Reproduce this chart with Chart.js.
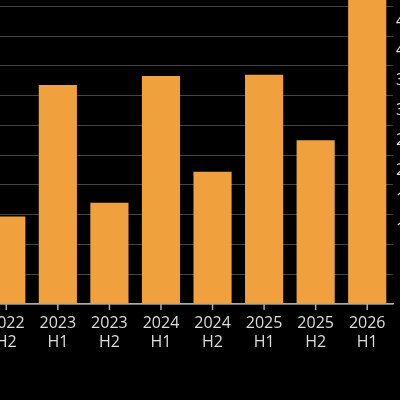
<!DOCTYPE html>
<html><head><meta charset="utf-8">
<script src="https://cdn.jsdelivr.net/npm/chart.js@4"></script>
<style>html,body{margin:0;background:#000;overflow:hidden;width:400px;height:400px}
#w{position:absolute;left:-22px;top:-36px;width:445px;height:400px}</style>
</head><body><div id="w"><canvas id="c"></canvas></div>
<script>
const years = ["2022","2023","2023","2024","2024","2025","2025","2026"];
const halves = ["H2","H1","H2","H1","H2","H1","H2","H1"];
const values = [14.7,36.8,17.0,38.3,22.2,38.5,27.5,53];
const yTicks = [0,5,10,15,20,25,30,35,40,45,50,55];
new Chart(document.getElementById('c'),{
type:'bar',
data:{labels:years.map((y,i)=>[y,halves[i]]),datasets:[{data:values,backgroundColor:'#f0a03c',categoryPercentage:0.74,barPercentage:1}]},
options:{responsive:true,maintainAspectRatio:false,animation:false,
plugins:{legend:{display:false},tooltip:{enabled:false}},
layout:{padding:0},
scales:{
x:{afterFit:s=>{s.height=60},grid:{display:false,drawTicks:false},border:{color:'#aaa',width:1.5},
ticks:{color:'#ddd',font:{family:'Open Sans',size:16},padding:10,maxRotation:0,autoSkip:false}},
y:{position:'right',min:0,max:55,afterBuildTicks:s=>{s.ticks=yTicks.map(v=>({value:v}))},
afterFit:s=>{s.width=30},
grid:{color:'#444',drawTicks:false},border:{display:false},
ticks:{color:'#ddd',font:{family:'Open Sans',size:16},padding:3,labelOffset:-15,
callback:v=>v<10?'':String(v)}}
}},
plugins:[{id:'tk',afterDraw(ch){const x=ch.scales.x,c=ch.ctx,b=ch.chartArea.bottom;c.save();c.strokeStyle='#aaa';c.lineWidth=1.5;
for(let i=0;i<years.length;i++){const p=x.getPixelForTick(i);c.beginPath();c.moveTo(p,b);c.lineTo(p,b+6);c.stroke();}c.restore();}}]
});
</script></body></html>
